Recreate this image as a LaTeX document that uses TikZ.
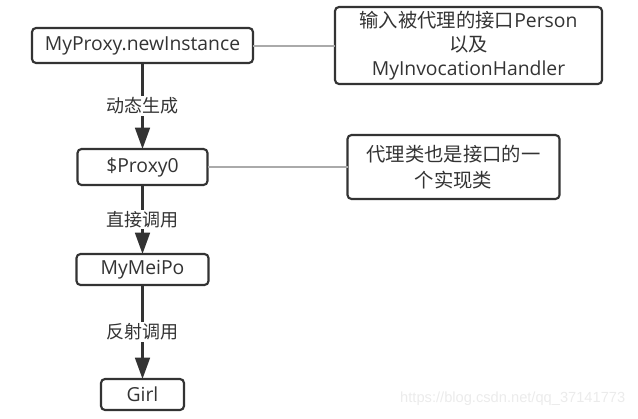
\documentclass[tikz,border=0pt]{standalone}
\usepackage{fontspec}
\setmainfont{Open Sans}
\newfontfamily\cjk{Noto Sans CJK SC}
\newfontfamily\markfont{Liberation Sans}
\usetikzlibrary{positioning,arrows.meta}
\definecolor{inkgray}{HTML}{333333}
\definecolor{linegray}{HTML}{AAAAAA}
\definecolor{markgray}{HTML}{EBEBEB}
\begin{document}
\begin{tikzpicture}
        [x=0.75pt,y=-0.75pt,
         box/.style ={draw=inkgray,line width=1.6pt,rounded corners=3pt,inner sep=0pt,outer sep=0pt,
                      font=\fontsize{14.5pt}{18pt}\selectfont,text=inkgray},
         note/.style={box,align=center},
         flow/.style={draw=inkgray,line width=2pt,-{Triangle[length=16pt,width=11pt]}},
         tag/.style ={fill=white,inner sep=1pt,font=\cjk\fontsize{13.5pt}{17pt}\selectfont,text=inkgray},
         link/.style={draw=linegray,line width=1.5pt}]
        \useasboundingbox (0,0) rectangle (638,418);
        \node[box,minimum width=165.75pt,minimum height=26.25pt] (inst) at (142.5,45.5){MyProxy.newInstance};
        \node[box,minimum width=97.5pt,minimum height=27pt] (proxy)[below=64.5pt of inst]{\$Proxy0};
        \node[box,minimum width=99pt,minimum height=23.25pt] (meipo)[below=51.75pt of proxy]{MyMeiPo};
        \node[box,minimum width=62.25pt,minimum height=23.25pt] (girl)[below=70.5pt of meipo]{Girl};
        \node[note,minimum width=200.25pt,minimum height=57.75pt] (input)[right=61.5pt of inst]
            {{\cjk 输入被代理的接口}Person\\{\cjk 以及}\\MyInvocationHandler};
        \node[note,minimum width=159pt,minimum height=48pt,font=\cjk\fontsize{14.5pt}{19pt}\selectfont] (impl)[right=105pt of proxy]
            {代理类也是接口的一\\个实现类};
        \draw[flow] (inst) to node[tag]{动态生成} (proxy);
        \draw[flow] (proxy) to node[tag]{直接调用} (meipo);
        \draw[flow] (meipo) to node[tag]{反射调用} (girl);
        \draw[link] (inst) to (input) (proxy) to (impl);
        \node[text=markgray,font=\markfont\fontsize{11pt}{13pt}\selectfont,anchor=east] (mark) at (630,399){https://blog.csdn.net/qq\_37141773};
    \end{tikzpicture}
\end{document}
